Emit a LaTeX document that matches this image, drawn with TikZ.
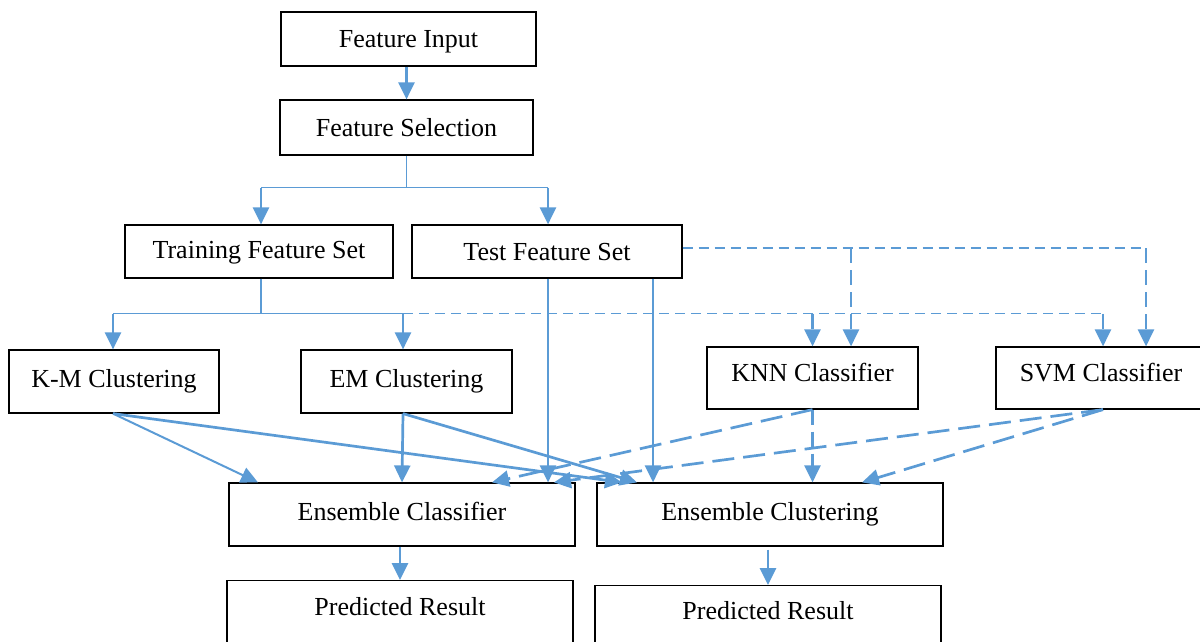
\documentclass[tikz,border=0pt]{standalone}
\usepackage{fontspec}
\setmainfont{Liberation Serif}
\usetikzlibrary{arrows.meta}
\definecolor{ablue}{HTML}{5B9BD5}
\begin{document}
\begin{tikzpicture}[x=1pt,y=-1pt,
  box/.style={draw=black, line width=1.2pt, fill=white, inner sep=0pt, text height=17.2pt, text depth=0pt, font=\fontsize{26}{30}\selectfont},
  txt/.style={inner sep=0pt, text height=17.2pt, text depth=0pt, font=\fontsize{26}{30}\selectfont},
  thinln/.style={draw=ablue, line width=1.5pt},
  arr/.style={draw=ablue, line width=2.7pt, -{Triangle[length=17pt,width=16pt]}, color=ablue},
  darr/.style={arr, dash pattern=on 15pt off 7pt},
  ddiag/.style={arr, dash pattern=on 22pt off 9pt},
  dthin/.style={draw=ablue, line width=1.5pt, dash pattern=on 10pt off 6pt}
]
\useasboundingbox (0,0) rectangle (1200,642);
\clip (0,0) rectangle (1200,642);

% boxes
\node[box, minimum width=255pt, minimum height=54pt] (fi) at (408.5,39) {Feature Input};
\node[box, minimum width=253pt, minimum height=55pt] (fsel) at (406.5,127.5) {Feature Selection};
\node[box, minimum width=268pt, minimum height=53pt, text depth=4pt] (train) at (259,251.5) {Training Feature Set};
\node[box, minimum width=270pt, minimum height=53pt] (test) at (547,251.5) {Test Feature Set};
\node[box, minimum width=210pt, minimum height=63pt, text depth=6pt] (km) at (114,381.5) {K-M Clustering};
\node[box, minimum width=211pt, minimum height=63pt, text depth=6pt] (em) at (406.5,381.5) {EM Clustering};
\node[box, minimum width=211pt, minimum height=62pt, text depth=11pt] (knn) at (812.5,378) {KNN Classifier};
\node[box, minimum width=210pt, minimum height=62pt, text depth=11pt] (svm) at (1101,378) {SVM Classifier};
\node[box, minimum width=346pt, minimum height=63pt, text depth=6pt] (ec) at (402,514.5) {Ensemble Classifier};
\node[box, minimum width=346pt, minimum height=63pt, text depth=6pt] (ecl) at (770,514.5) {Ensemble Clustering};
\node[box, minimum width=346pt, minimum height=80pt, anchor=north] (pr1) at (400,580) {};
\node[txt] (pr1t) at (400,607) {Predicted Result};
\node[box, minimum width=346pt, minimum height=80pt, anchor=north] (pr2) at (768,585) {};
\node[txt] (pr2t) at (768,611) {Predicted Result};

% input -> selection
\draw[arr] (fsel.north |- fi.south) -- (fsel.north);

% selection -> training / test
\draw[thinln] (fsel.south) -- ++(0,32) coordinate (j1);
\coordinate (trin) at ([xshift=2pt]train.north);
\coordinate (tein) at ([xshift=1pt]test.north);
\draw[thinln] (j1 -| trin) -- (j1 -| tein);
\draw[arr] (j1 -| trin) -- (trin);
\draw[arr] (j1 -| tein) -- (tein);

% training -> clusterings / classifiers
\draw[thinln] ([xshift=2pt]train.south) -- ++(0,35) coordinate (j2);
\coordinate (emin) at ([xshift=-3.5pt]em.north);
\coordinate (kmin) at ([xshift=-1pt]km.north);
\coordinate (svmin) at ([xshift=2pt]svm.north);
\draw[thinln] (j2 -| kmin) -- (j2 -| emin);
\draw[arr] (j2 -| kmin) -- (kmin);
\draw[arr] (j2 -| emin) -- (emin);
\draw[dthin] (j2 -| emin) -- (j2 -| svmin);
\draw[darr] (j2 -| knn.north) -- (knn.north);
\draw[darr] (j2 -| svmin) -- (svmin);

% test -> classifiers
\coordinate (j3) at ([yshift=3.5pt]test.east);
\coordinate (knnin2) at ([xshift=38.5pt]knn.north);
\coordinate (svmin2) at ([xshift=45pt]svm.north);
\draw[dthin] (j3) -- (j3 -| svmin2);
\draw[darr] (j3 -| knnin2) -- (knnin2);
\draw[darr] (j3 -| svmin2) -- (svmin2);

% test -> ensembles
\draw[arr] ([xshift=1pt]test.south) -- ([xshift=146pt]ec.north);
\draw[arr] ([xshift=106pt]test.south) -- ([xshift=-117pt]ecl.north);

% clusterings -> ensembles
\draw[arr, line width=2pt] (kmin |- km.south) -- ([xshift=-144pt]ec.north);
\draw[arr] (kmin |- km.south) -- ([xshift=-148pt]ecl.north);
\draw[arr] (emin |- em.south) -- (ec.north);
\draw[arr] (emin |- em.south) -- ([xshift=-133pt]ecl.north);

% classifiers -> ensembles
\coordinate (svmout) at ([xshift=2pt]svm.south);
\draw[ddiag] (knn.south) -- ([xshift=90pt]ec.north);
\draw[darr] (knn.south) -- (knn.south |- ecl.north);
\draw[ddiag] (svmout) -- ([xshift=152pt]ec.north);
\draw[ddiag] (svmout) -- ([xshift=92pt]ecl.north);

% ensembles -> results
\draw[arr] (pr1.north |- ec.south) -- (pr1.north);
\draw[arr] ([yshift=-3pt]pr2.north |- ecl.south) -- (pr2.north);
\end{tikzpicture}
\end{document}
